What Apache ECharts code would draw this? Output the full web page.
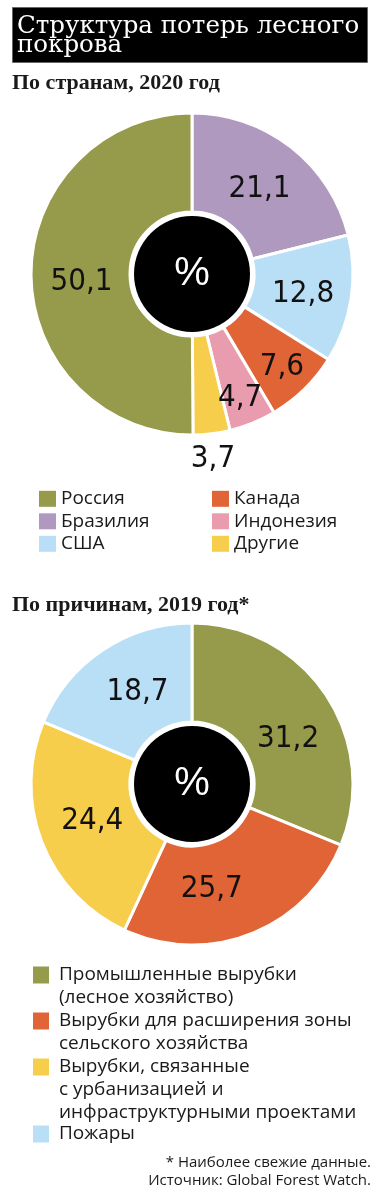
<!DOCTYPE html>
<html><head><meta charset="utf-8">
<script src="https://cdn.jsdelivr.net/npm/echarts@6/dist/echarts.min.js"></script>
<style>html,body{margin:0;padding:0;background:#fff}#c{width:385px;height:1200px}</style>
</head><body><div id="c"></div>
<script>
// ---- data ----
const countryNames = ['Бразилия', 'США', 'Канада', 'Индонезия', 'Другие', 'Россия'];
const countryValues = [21.1, 12.8, 7.6, 4.7, 3.7, 50.1];
const countryLegendLeft = ['Россия', 'Бразилия', 'США'];
const countryLegendRight = ['Канада', 'Индонезия', 'Другие'];
const causeNames = ['Промышленные вырубки\n(лесное хозяйство)', 'Вырубки для расширения зоны\nсельского хозяйства', 'Вырубки, связанные\nс урбанизацией и\nинфраструктурными проектами', 'Пожары'];
const causeValues = [31.2, 25.7, 24.4, 18.7];

// ---- styles ----
const countryColors = {'Россия':'#969B4B','Бразилия':'#AF99BE','США':'#B9DFF6','Канада':'#E06436','Индонезия':'#E89CAD','Другие':'#F6CE4B'};
const causeColors = ['#969B4B', '#E06436', '#F6CE4B', '#B9DFF6'];
const countryLabelOffset = {'Бразилия':[-3,5],'США':[-2,2],'Канада':[10,11],'Индонезия':[5,18],'Другие':[7,71],'Россия':[4,8]};
const causeLabelOffset = [[1,19],[-22,-2],[7,-5],[9,3]];
const TXT = '#1a1a1a';
const NUMFONT = "'DejaVu Sans Condensed', 'Liberation Sans Narrow', 'Roboto Condensed', 'Arial Narrow', Roboto, sans-serif";
const fmt = p => String(p.value).replace('.', ',');
const labelStyle = {show:true, position:'inside', formatter:fmt, fontFamily:NUMFONT, fontSize:31, color:'#111'};
const legendFont = {fontFamily:'Open Sans', fontSize:19, color:TXT};

function centerDisc(cy) {
  return {type:'pie', center:[192, cy], radius:[0, 58], silent:true, z:3,
    label:{show:true, position:'center', formatter:'%', color:'#fff', fontSize:40, fontFamily:'Liberation Sans'},
    labelLine:{show:false}, itemStyle:{color:'#000'}, emphasis:{disabled:true},
    data:[{value:1, name:'%'}]};
}

const L2 = 22.7;
const causeFirstLineY = [975, 1021, 1067, 1134];
const causeLegends = causeNames.map((n, i) => {
  const N = n.split('\n').length;
  return {orient:'vertical', left:33, top: causeFirstLineY[i] - (N - 0.5) * L2, padding:0,
    itemWidth:16, itemHeight:17, itemGap:0, icon:'rect', selectedMode:false,
    itemStyle:{borderWidth:0},
    formatter: name => '\n'.repeat(N - 1) + name.split('\n').map(s => ' ' + s).join('\n'),
    textStyle:Object.assign({lineHeight:L2}, legendFont),
    data:[n]};
});

const L1 = 22.5;
function countryLegend(names, left) {
  return {orient:'vertical', left:left, top:498.8 - L1 / 2, padding:0,
    itemWidth:17, itemHeight:16, itemGap:0, icon:'rect', selectedMode:false,
    itemStyle:{borderWidth:0},
    textStyle:Object.assign({lineHeight:L1}, legendFont), data:names};
}

function ring(cy, data) {
  return {type:'pie', center:[192, cy], radius:[62, 161], startAngle:90, clockwise:true,
    avoidLabelOverlap:false, minShowLabelAngle:0, labelLayout:{hideOverlap:false},
    itemStyle:{borderColor:'#fff', borderWidth:3}, labelLine:{show:false}, emphasis:{disabled:true},
    label:labelStyle, data:data};
}

const option = {
  backgroundColor:'#fff',
  animation:false,
  title:[
    {text:'Структура потерь лесного\nпокрова', left:12, top:10, backgroundColor:'#000', borderColor:'#666', borderWidth:1,
     padding:[7,5,5,5], textStyle:{color:'#fff', fontFamily:'DejaVu Serif', fontSize:24.5, fontWeight:'normal', lineHeight:19, width:346}},
    {text:'По странам, 2020 год', left:12, top:71, padding:0,
     textStyle:{color:TXT, fontFamily:'Liberation Serif', fontSize:22, fontWeight:'bold', lineHeight:24}},
    {text:'По причинам, 2019 год*', left:12, top:593, padding:0,
     textStyle:{color:TXT, fontFamily:'Liberation Serif', fontSize:22, fontWeight:'bold', lineHeight:24}},
    {text:'* Наиболее свежие данные.', right:14, top:1154, padding:0,
     textStyle:{color:TXT, fontFamily:'Open Sans', fontSize:15, fontWeight:'normal', lineHeight:18}},
    {text:'Источник: Global Forest Watch.', right:14, top:1172, padding:0,
     textStyle:{color:TXT, fontFamily:'Open Sans', fontSize:15, fontWeight:'normal', lineHeight:18}}
  ],
  legend:[countryLegend(countryLegendLeft, 39), countryLegend(countryLegendRight, 212)].concat(causeLegends),
  series:[
    ring(274, countryNames.map((n, i) => ({name:n, value:countryValues[i], itemStyle:{color:countryColors[n]},
       label:{offset:countryLabelOffset[n] || [0,0]}}))),
    centerDisc(274),
    ring(784, causeNames.map((n, i) => ({name:n, value:causeValues[i], itemStyle:{color:causeColors[i]},
       label:{offset:causeLabelOffset[i]}}))),
    centerDisc(784)
  ]
};
echarts.init(document.getElementById('c'), null, {renderer:'canvas'}).setOption(option);
</script></body></html>
